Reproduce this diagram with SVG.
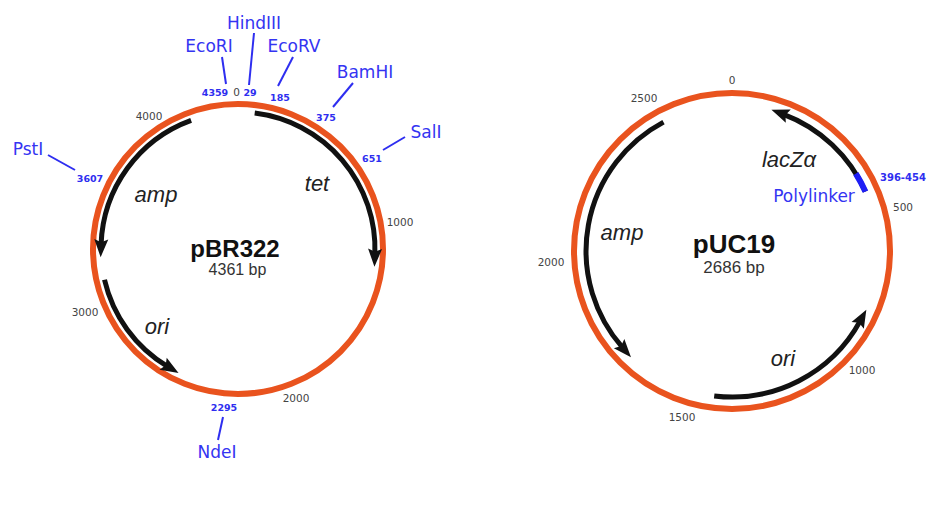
<svg xmlns="http://www.w3.org/2000/svg" width="929" height="514" viewBox="0 0 929 514">
  <style>
    .bb { fill: none; stroke: #E9531E; stroke-width: 6; }
    .gene { fill: none; stroke: #111; stroke-width: 5; marker-end: url(#head); }
    .poly { fill: none; stroke: #1E1EF5; stroke-width: 6; }
    .lead { stroke: #2E2EF0; stroke-width: 2; fill: none; }
    .tick { font-family: "DejaVu Sans", sans-serif; font-size: 10.5px; fill: #444; text-anchor: middle; }
    .pos { font-family: "DejaVu Sans", sans-serif; font-size: 9.5px; font-weight: bold; fill: #2E2EF0; text-anchor: middle; }
    .range { font-family: "DejaVu Sans", sans-serif; font-size: 10px; font-weight: bold; fill: #2E2EF0; text-anchor: start; }
    .enz { font-family: "DejaVu Sans", sans-serif; font-size: 17px; fill: #3434F2; text-anchor: middle; }
    .gl { font-family: "Liberation Sans", Arial, sans-serif; font-size: 22px; font-style: italic; fill: #222; text-anchor: middle; }
    .name { font-family: "Liberation Sans", Arial, sans-serif; font-weight: bold; fill: #111; text-anchor: middle; }
    .size { font-family: "Liberation Sans", Arial, sans-serif; fill: #333; text-anchor: middle; }
  </style>
  <defs>
    <marker id="head" markerUnits="userSpaceOnUse" markerWidth="30" markerHeight="30" refX="0" refY="0" viewBox="-10 -10 30 20" orient="auto">
      <path d="M13,0 L-5,-7 L-2,0 L-5,7 Z" fill="#111"/>
    </marker>
  </defs>

  <!-- pBR322 -->
  <g id="pBR322">
    <circle class="bb" cx="238" cy="249" r="145"/>
    <path id="pbr-tet" class="gene" d="M254.7,113 A137,137 0 0 1 374.9,253.8"/>
    <path id="pbr-amp" class="gene" d="M191.1,120.3 A137,137 0 0 0 101.1,244.2"/>
    <path id="pbr-ori" class="gene" d="M104.5,279.8 A137,137 0 0 0 167.4,366.4"/>
    <text class="name" x="235" y="257" font-size="24">pBR322</text>
    <text class="size" x="237.5" y="275" font-size="16">4361 bp</text>
    <text class="gl" x="156" y="202">amp</text>
    <text class="gl" x="317" y="191">tet</text>
    <text class="gl" x="157" y="334">ori</text>
    <text class="tick" x="149" y="120">4000</text>
    <text class="tick" x="400" y="226">1000</text>
    <text class="tick" x="85" y="316">3000</text>
    <text class="tick" x="296" y="402">2000</text>
    <text class="tick" x="236.5" y="96">0</text>
  </g>

  <!-- pBR322 restriction sites -->
  <g id="site-EcoRI"><text class="pos" x="215" y="96">4359</text><text class="enz" x="209" y="52">EcoRI</text></g>
  <g id="site-HindIII"><text class="pos" x="250" y="96">29</text><text class="enz" x="254" y="29">HindIII</text></g>
  <g id="site-EcoRV"><text class="pos" x="280" y="101">185</text><text class="enz" x="294" y="52">EcoRV</text></g>
  <g id="site-BamHI"><text class="pos" x="326" y="121">375</text><text class="enz" x="365" y="78">BamHI</text></g>
  <g id="site-SalI"><text class="pos" x="372" y="162">651</text><text class="enz" x="426" y="138">SalI</text></g>
  <g id="site-PstI"><text class="pos" x="90" y="182">3607</text><text class="enz" x="28" y="155">PstI</text></g>
  <g id="site-NdeI"><text class="pos" x="224" y="411">2295</text><text class="enz" x="217" y="458">NdeI</text></g>

  <!-- pUC19 -->
  <g id="pUC19">
    <circle class="bb" cx="732" cy="251" r="158"/>
    <path id="puc-amp" class="gene" d="M663.5,122.1 A146,146 0 0 0 622.4,347.4"/>
    <path id="puc-ori" class="gene" d="M714.2,395.9 A146,146 0 0 0 860.1,321.1"/>
    <path id="puc-lacZ" class="gene" d="M865.4,191.6 A146,146 0 0 0 783.6,114.4"/>
    <path id="puc-polylinker" class="poly" d="M855.8,173.6 A146,146 0 0 1 865.4,191.6"/>
    <text class="name" x="734" y="253" font-size="26">pUC19</text>
    <text class="size" x="734" y="273" font-size="17">2686 bp</text>
    <text class="gl" x="622" y="240">amp</text>
    <text class="gl" x="789" y="167">lacZα</text>
    <text class="gl" x="783" y="366">ori</text>
    <text class="tick" x="732" y="84">0</text>
    <text class="tick" x="644" y="102">2500</text>
    <text class="tick" x="903" y="211">500</text>
    <text class="tick" x="551" y="266">2000</text>
    <text class="tick" x="862" y="374">1000</text>
    <text class="tick" x="682" y="421">1500</text>
    <text class="range" x="880" y="181">396-454</text>
    <text class="enz" x="814" y="202">Polylinker</text>
  </g>

  <!-- leader lines from site labels to positions -->
  <g id="connectors">
    <line class="lead" x1="222" y1="57" x2="226" y2="84"/>
    <line class="lead" x1="254" y1="33" x2="249" y2="85"/>
    <line class="lead" x1="293" y1="57" x2="278" y2="86"/>
    <line class="lead" x1="353" y1="83" x2="333" y2="107"/>
    <line class="lead" x1="405" y1="137" x2="383" y2="150"/>
    <line class="lead" x1="48" y1="155" x2="75" y2="170"/>
    <line class="lead" x1="223" y1="417" x2="218" y2="440"/>
  </g>
</svg>
